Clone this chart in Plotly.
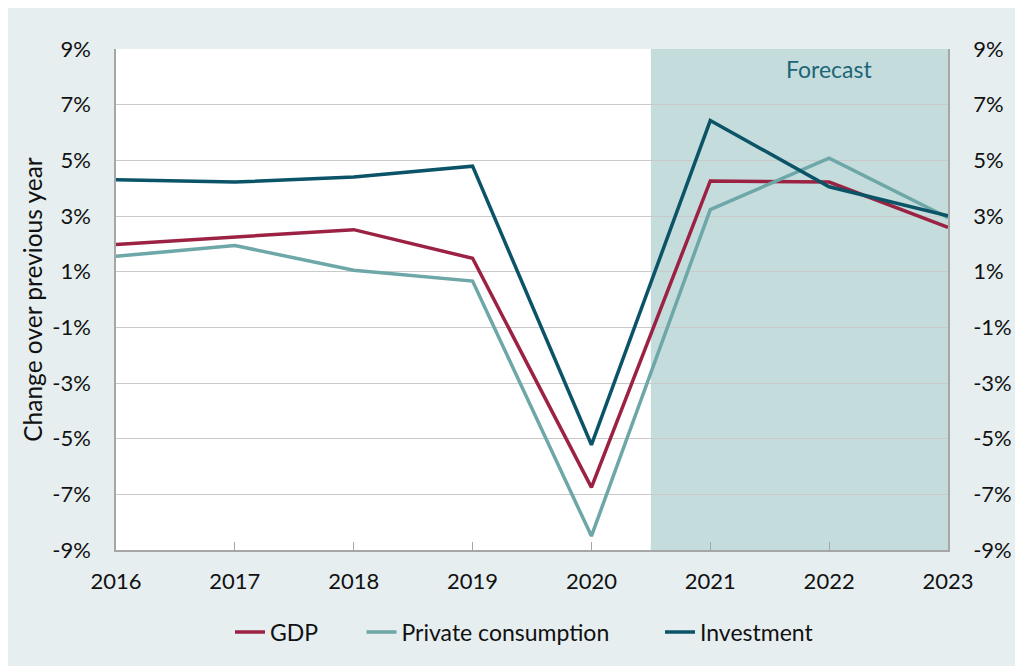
import plotly.graph_objects as go

years = [2016, 2017, 2018, 2019, 2020, 2021, 2022, 2023]
gdp = [1.98, 2.23, 2.51, 1.48, -6.75, 4.26, 4.22, 2.59]
private_consumption = [1.55, 1.94, 1.05, 0.66, -8.5, 3.23, 5.08, 2.94]
investment = [4.30, 4.22, 4.40, 4.79, -5.22, 6.43, 4.05, 3.01]
y_ticks = [-9, -7, -5, -3, -1, 1, 3, 5, 7, 9]
y_labels = [f"{v}%" for v in y_ticks]
forecast_start = 2020.5

FONT = "Lato"
BG = "#e6eef0"
W, H = 1015, 658
L, R, T, B = 108, 75, 41, 112
PW = W - L - R
PH = H - T - B

def px_to_paper_x(page_x):
    return (page_x - 8 - L) / PW

fig = go.Figure()
series = [
    ("GDP", gdp, "#9b2243", "legend"),
    ("Private consumption", private_consumption, "#6da7a8", "legend2"),
    ("Investment", investment, "#0b5467", "legend3"),
]
for name, vals, col, lg in series:
    fig.add_trace(go.Scatter(x=years, y=vals, name=name, mode="lines", legend=lg,
                             line=dict(color=col, width=3.5)))
# invisible trace for right axis
fig.add_trace(go.Scatter(x=years, y=gdp, yaxis="y2", showlegend=False,
                         mode="lines", line=dict(width=0), hoverinfo="skip"))

shapes = [
    dict(type="rect", xref="x", yref="y", x0=forecast_start, x1=years[-1], y0=-9, y1=9,
         fillcolor="#c5dcdd", line=dict(width=0), layer="below"),
]

leg_common = dict(orientation="h", xanchor="left", y=-0.158 - 3 / PH, yanchor="middle",
                  font=dict(size=23, family=FONT, color="#111111"), itemwidth=30,
                  bgcolor="rgba(0,0,0,0)")

fig.update_layout(
    width=W, height=H,
    margin=dict(l=L, r=R, t=T, b=B),
    paper_bgcolor=BG, plot_bgcolor="white",
    font=dict(family=FONT, size=22, color="#111111"),
    shapes=shapes,
    showlegend=True,
    legend=dict(x=px_to_paper_x(230), **leg_common),
    legend2=dict(x=px_to_paper_x(361.5), **leg_common),
    legend3=dict(x=px_to_paper_x(660), **leg_common),
    xaxis=dict(range=[years[0], years[-1]], tickvals=years, showgrid=False,
               showline=True, linecolor="#a6a6a6", linewidth=1.5,
               ticks="inside", ticklen=8, tickcolor="#a6a6a6",
               ticklabelstandoff=11, zeroline=False),
    yaxis=dict(range=[-9, 9], tickvals=y_ticks, ticktext=y_labels,
               showgrid=True, gridcolor="#c9c9c9", gridwidth=1,
               showline=True, linecolor="#a6a6a6", linewidth=1.5,
               zeroline=False, ticks="", ticklabelstandoff=19,
               title=dict(text="Change over previous year", font=dict(size=24.5), standoff=3)),
    yaxis2=dict(range=[-9, 9], tickvals=y_ticks, ticktext=y_labels, overlaying="y",
                side="right", showgrid=False, showline=True, linecolor="#a6a6a6",
                linewidth=1.5, zeroline=False, ticks="", ticklabelstandoff=19),
    annotations=[dict(text="Forecast", x=2022, xref="x", y=1, yref="paper",
                      yanchor="top", yshift=-4, showarrow=False,
                      font=dict(size=23, color="#1c6577", family=FONT))],
)

fig.write_html("out.html")
